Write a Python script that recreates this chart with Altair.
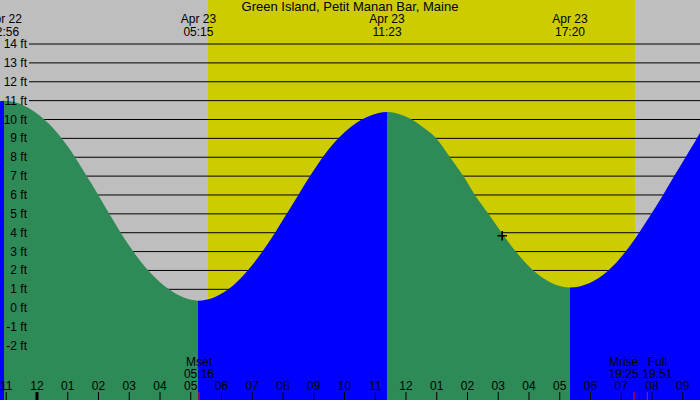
import altair as alt
import pandas as pd

# ---------------- data ----------------
TITLE = "Green Island, Petit Manan Bar, Maine"

# visible window: hours relative to midnight Apr 23, and feet
T_MIN, T_MAX = -1.2033, 21.561
H_MIN, H_MAX = -4.865, 16.333

# tide curve (hours, feet)
tide_t = [-1.2033, -1.067, 0.237, 0.803, 1.236, 1.616, 1.993, 2.351, 2.722, 3.132, 3.620, 4.293, 5.25,
          6.221, 6.852, 7.327, 7.740, 8.120, 8.498, 8.878, 9.291, 9.80, 10.20, 10.56, 10.83, 11.383,
          11.93, 12.19, 12.50, 12.98, 13.43, 13.864, 14.24, 14.68, 15.11, 15.57, 16.14, 17.333,
          18.58, 19.14, 19.58, 19.98, 20.36, 20.72, 21.09, 21.46, 21.561]
tide_h = [10.97, 11.0, 10, 9, 8, 7, 6, 5, 4, 3, 2, 1, 0.4,
          1, 2, 3, 4, 5, 6, 7, 8, 9, 9.6, 10, 10.2, 10.4,
          10.2, 10, 9.65, 9, 8, 7, 6, 5, 4, 3, 2, 1.1,
          2, 3, 4, 5, 6, 7, 8, 9, 9.3]

# high / low tides
ext_t = [-1.067, 5.25, 11.383, 17.333]
ext_kind = ["high", "low", "high", "low"]
ext_date = ["Apr 22", "Apr 23", "Apr 23", "Apr 23"]
ext_time = ["22:56", "05:15", "11:23", "17:20"]

# day / night
sky_start = [T_MIN, 5.561, 19.447]
sky_end = [5.561, 19.447, T_MAX]
sky_kind = ["night", "day", "night"]

# grid lines (ft)
grid_ft = list(range(-2, 15))

# hour ticks
hour_t = list(range(-1, 22))
hour_lab = ["11", "12", "01", "02", "03", "04", "05", "06", "07", "08", "09", "10",
            "11", "12", "01", "02", "03", "04", "05", "06", "07", "08", "09"]
midnight_t = [0]

# moon events
moon_t = [5.267, 19.417, 19.85]
moon_name = ["Mset", "Mrise", "Full"]
moon_time = ["05:16", "19:25", "19:51"]

# crosshair marker
cross_t = [15.13]
cross_h = [3.84]

# ---------------- style ----------------
GRAY = "#bebebe"
YELLOW = "#cccc00"
GREEN = "#2e8b57"
BLUE = "#0000ff"
FONT = "Liberation Sans"
FS = 12

xs = alt.Scale(domain=[T_MIN, T_MAX], nice=False, zero=False)
ys = alt.Scale(domain=[H_MIN, H_MAX], nice=False, zero=False)

tide_df = pd.DataFrame({"t": tide_t, "h": tide_h})
ext_df = pd.DataFrame({"t": ext_t, "kind": ext_kind, "date": ext_date, "time": ext_time})
sky_df = pd.DataFrame({"t0": sky_start, "t1": sky_end, "kind": sky_kind})
grid_df = pd.DataFrame({"ft": grid_ft, "label": [f"{v} ft" for v in grid_ft]})
hour_df = pd.DataFrame({"t": hour_t, "label": hour_lab})
mid_df = pd.DataFrame({"t": midnight_t})
moon_df = pd.DataFrame({"t": moon_t, "name": moon_name, "time": moon_time})
cross_df = pd.DataFrame({"t": cross_t, "h": cross_h})
title_df = pd.DataFrame({"title": [TITLE]})

X = lambda f: alt.X(f, scale=xs, axis=None)
Y = lambda f: alt.Y(f, scale=ys, axis=None)

# gradient that switches colour at every high / low tide
span = T_MAX - T_MIN
stops = [alt.GradientStop(offset=0, color=BLUE if ext_kind[0] == "high" else GREEN)]
for t, k in zip(ext_t, ext_kind):
    o = (t - T_MIN) / span
    before, after = (BLUE, GREEN) if k == "high" else (GREEN, BLUE)
    stops.append(alt.GradientStop(offset=o, color=before))
    stops.append(alt.GradientStop(offset=o, color=after))
stops.append(alt.GradientStop(offset=1, color=GREEN if ext_kind[-1] == "high" else BLUE))
grad = alt.LinearGradient(gradient="linear", stops=stops, x1=0, x2=1, y1=0, y2=0)

sky = alt.Chart(sky_df).mark_rect().encode(
    x=X("t0:Q"), x2="t1:Q", y=alt.value(0), y2=alt.value(400),
    color=alt.Color("kind:N", scale=alt.Scale(domain=["night", "day"], range=[GRAY, YELLOW]), legend=None),
)

grid = alt.Chart(grid_df).mark_rule(color="black", strokeWidth=1).encode(
    y=Y("ft:Q"), x=alt.value(29), x2=alt.value(700)
)

area = alt.Chart(tide_df).mark_area(color=grad, interpolate="monotone", clip=True).encode(
    x=X("t:Q"), y=Y("h:Q"), y2=alt.datum(H_MIN)
)

ylabels = alt.Chart(grid_df).mark_text(align="right", baseline="middle", font=FONT, fontSize=FS, color="black").encode(
    y=Y("ft:Q"), x=alt.value(27), text="label:N"
)

title = alt.Chart(title_df).mark_text(align="center", baseline="alphabetic", font=FONT, fontSize=13, color="black").encode(
    x=alt.value(350), y=alt.value(11), text="title:N"
)

top_date = alt.Chart(ext_df).mark_text(align="center", baseline="alphabetic", font=FONT, fontSize=FS, color="black").encode(
    x=X("t:Q"), y=alt.value(23), text="date:N"
)
top_time = alt.Chart(ext_df).mark_text(align="center", baseline="alphabetic", font=FONT, fontSize=FS, color="black").encode(
    x=X("t:Q"), y=alt.value(36), text="time:N"
)

hour_ticks = alt.Chart(hour_df).mark_rule(color="black", strokeWidth=1).encode(
    x=X("t:Q"), y=alt.value(392), y2=alt.value(400)
)
mid_tick = alt.Chart(mid_df).mark_rule(color="black", strokeWidth=3).encode(
    x=X("t:Q"), y=alt.value(392), y2=alt.value(400)
)
hour_labels = alt.Chart(hour_df).mark_text(align="center", baseline="alphabetic", font=FONT, fontSize=FS, color="black").encode(
    x=X("t:Q"), y=alt.value(390), text="label:N"
)

moon_ticks = alt.Chart(moon_df).mark_rule(color="red", strokeWidth=1).encode(
    x=X("t:Q"), y=alt.value(392), y2=alt.value(400)
)
moon_dx = {"Mset": 0, "Mrise": -10.5, "Full": 10}
moon_layers = []
for name, dx in moon_dx.items():
    base = alt.Chart(moon_df).transform_filter(alt.datum.name == name)
    moon_layers.append(base.mark_text(align="center", baseline="alphabetic", font=FONT, fontSize=FS, color="black", dx=dx).encode(
        x=X("t:Q"), y=alt.value(366), text="name:N"))
    moon_layers.append(base.mark_text(align="center", baseline="alphabetic", font=FONT, fontSize=FS, color="black", dx=dx).encode(
        x=X("t:Q"), y=alt.value(378), text="time:N"))

cross = alt.Chart(cross_df).mark_point(shape="M-1,0H1M0,-1V1", size=90, filled=False, color="black", strokeWidth=1.6, opacity=1).encode(
    x=X("t:Q"), y=Y("h:Q")
)

chart = alt.layer(
    sky, grid, area, ylabels, title, top_date, top_time,
    hour_ticks, mid_tick, moon_ticks, hour_labels, *moon_layers, cross
).properties(width=700, height=400, padding=0, autosize="none").configure_view(stroke=None)

chart.save("out.html", embed_options={"renderer": "svg", "actions": False})
